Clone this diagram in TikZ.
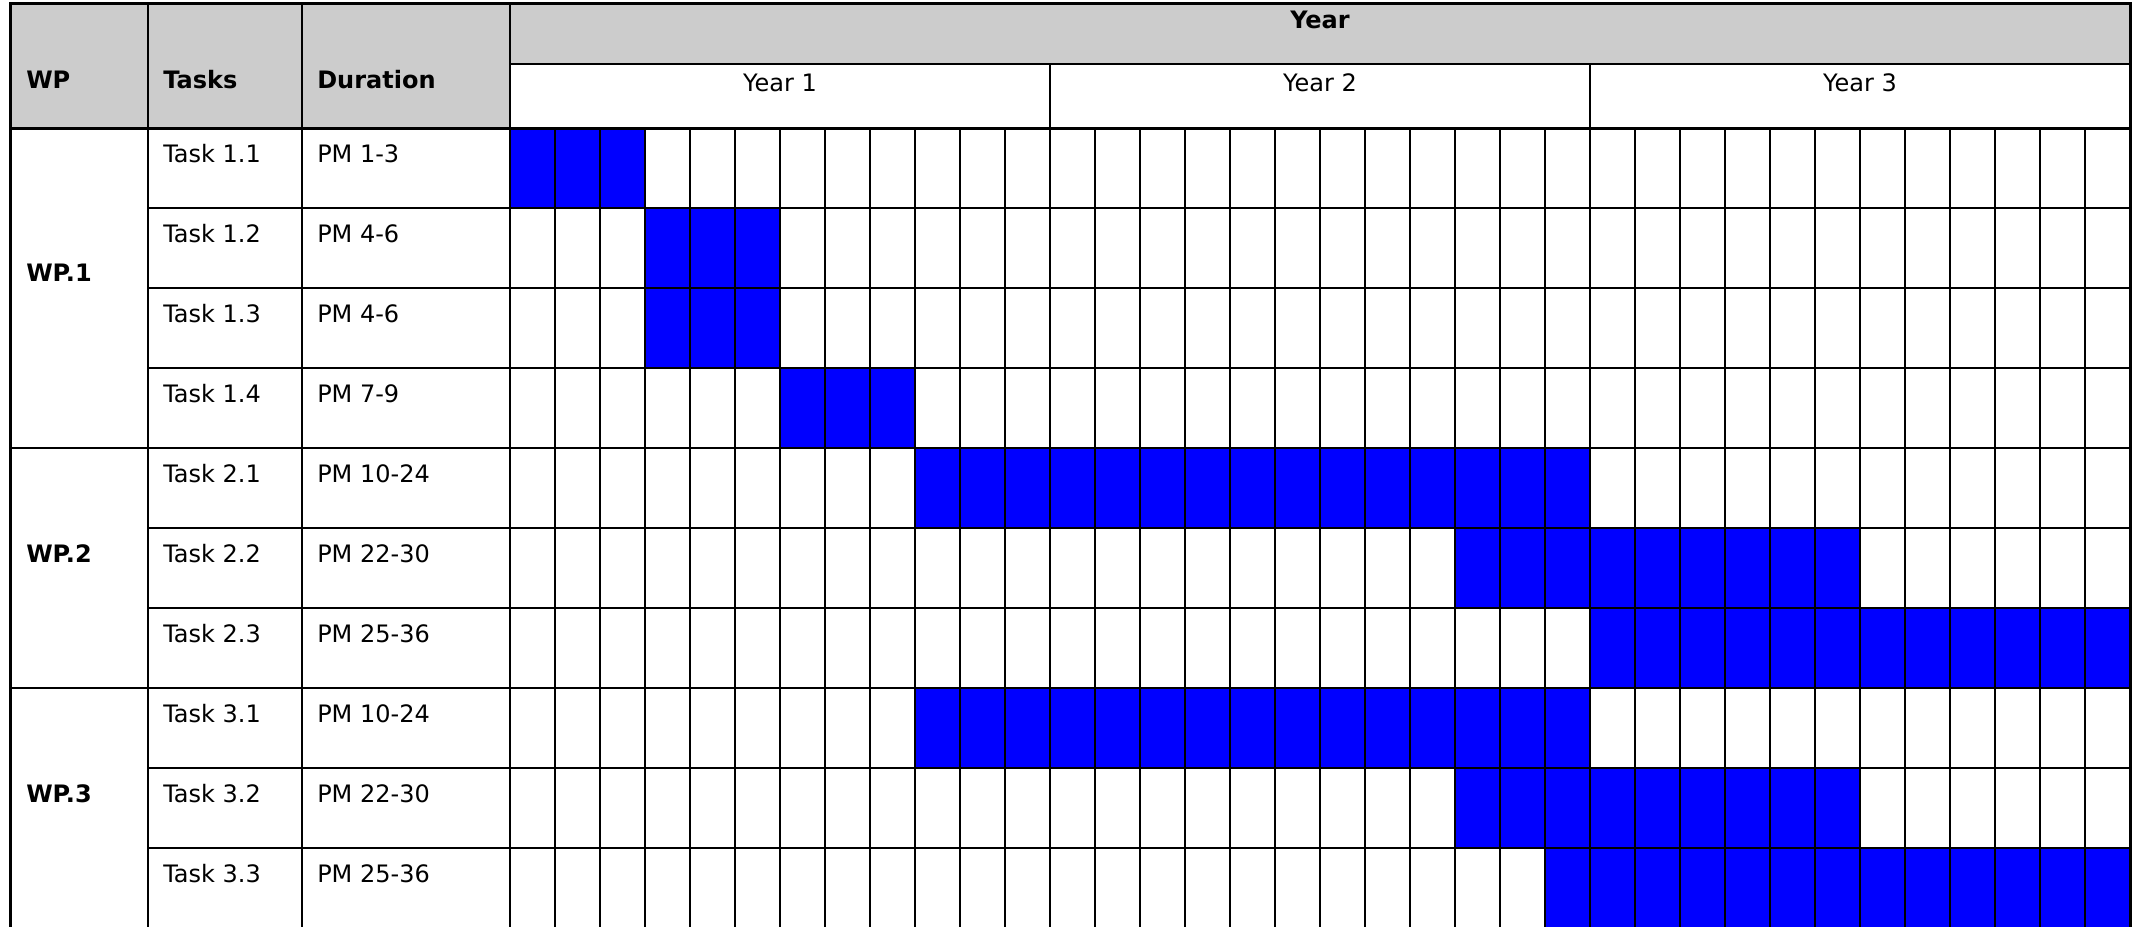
\documentclass[tikz,border=0pt]{standalone}
\usepackage{fontspec}
\setmainfont{DejaVu Sans}
\definecolor{hdrgray}{HTML}{CCCCCC}
\definecolor{barblue}{HTML}{0000FF}
\tikzset{
  gridline/.style={line width=1.5pt},
  boldline/.style={line width=2.25pt},
  celltext/.style={anchor=base west,inner sep=0pt,font=\fontsize{18}{22}\selectfont},
  headtext/.style={celltext,font=\fontsize{18}{22}\selectfont\bfseries},
  yeartext/.style={anchor=base,inner sep=0pt,font=\fontsize{18}{22}\selectfont},
}
\begin{document}
\begin{tikzpicture}[x=0.75pt,y=-0.75pt,line cap=rect]
  \useasboundingbox (0,0) rectangle (2137,926);
  \clip (0,0) rectangle (2137,926);
  % header shading
  \fill[hdrgray] (10,3) rectangle (510,128);
  \fill[hdrgray] (510,3) rectangle (2130,64);
  % bars: row/first month/last month
  \foreach \r/\s/\e in {0/1/3,1/4/6,2/4/6,3/7/9,4/10/24,5/22/30,6/25/36,7/10/24,8/22/30,9/24/36}
    \fill[barblue] ({510+45*(\s-1)},{128+80*\r}) rectangle ({510+45*\e},{128+80*(\r+1)});
  % month grid
  \foreach \m in {1,...,35}
    \draw[gridline] ({510+45*\m},128) -- ({510+45*\m},926);
  \foreach \r in {1,2,3,5,6,8,9}
    \draw[gridline] (148,{128+80*\r}) -- (2130,{128+80*\r});
  \foreach \r in {4,7}
    \draw[gridline] (10,{128+80*\r}) -- (2130,{128+80*\r});
  \draw[gridline] (510,64) -- (2130,64);
  \draw[gridline] (1050,64) -- (1050,926);
  \draw[gridline] (1590,64) -- (1590,926);
  \draw[gridline] (148,3) -- (148,926);
  \draw[gridline] (302,3) -- (302,926);
  \draw[gridline] (510,3) -- (510,926);
  % frame
  \draw[boldline] (10,926) -- (10,3) -- (2130,3) -- (2130,926);
  \draw[boldline] (10,128) -- (2130,128);
  % header texts
  \node[headtext] (wphead) at (26,88) {WP};
  \node[headtext] (taskhead) at (163,88) {Tasks};
  \node[headtext] (durhead) at (317,88) {Duration};
  \node[yeartext,font=\fontsize{18}{22}\selectfont\bfseries] (yearhead) at (1320,28) {Year};
  \node[yeartext] (year1) at (780,91) {Year 1};
  \node[yeartext] (year2) at (1320,91) {Year 2};
  \node[yeartext] (year3) at (1860,91) {Year 3};
  % work packages
  \node[headtext] (wp1) at (26,281) {WP.1};
  \node[headtext] (wp2) at (26,562) {WP.2};
  \node[headtext] (wp3) at (26,802) {WP.3};
  % tasks and durations
  \foreach \r/\t/\d in {0/Task 1.1/PM 1-3,1/Task 1.2/PM 4-6,2/Task 1.3/PM 4-6,3/Task 1.4/PM 7-9,
      4/Task 2.1/PM 10-24,5/Task 2.2/PM 22-30,6/Task 2.3/PM 25-36,
      7/Task 3.1/PM 10-24,8/Task 3.2/PM 22-30,9/Task 3.3/PM 25-36}{
    \node[celltext] (task\r) at (163,{162+80*\r}) {\t};
    \node[celltext] (dur\r) at (317,{162+80*\r}) {\d};
  }
\end{tikzpicture}
\end{document}
